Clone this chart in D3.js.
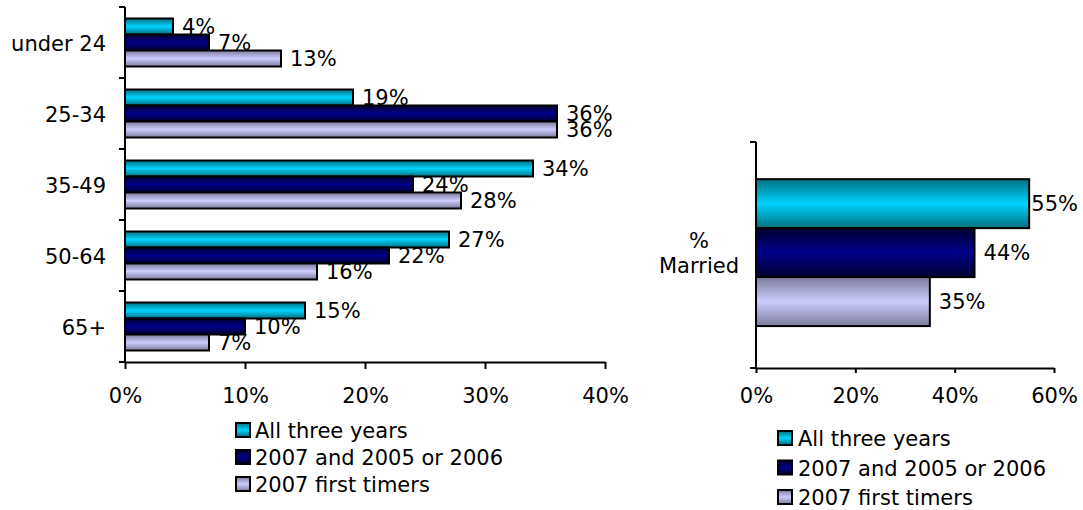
<!DOCTYPE html>
<html>
<head>
<meta charset="utf-8">
<script src="https://cdn.jsdelivr.net/npm/d3@7"></script>
<style>
  body { margin:0; background:#fff; }
  svg text { font-family:"DejaVu Sans", Verdana, sans-serif; font-size:21px; fill:#000; }
</style>
</head>
<body>
<svg id="chart" width="1083" height="510"></svg>
<script>
/* data */
const seriesNames  = ["All three years", "2007 and 2005 or 2006", "2007 first timers"];
const ageGroups    = ["under 24", "25-34", "35-49", "50-64", "65+"];
const allThree     = [4, 19, 34, 27, 15];
const repeatBuyers = [7, 36, 24, 22, 10];
const firstTimers  = [13, 36, 28, 16, 7];
const ageTicks     = [0, 10, 20, 30, 40];

const marriedLabel = ["%", "Married"];
const marriedVals  = [55, 44, 35];
const marriedTicks = [0, 20, 40, 60];

const FONT = "'DejaVu Sans', Verdana, sans-serif";
const svg = d3.select("#chart");

/* gradient fills: dark edges, bright middle */
const grads = [
  {id:"g0", edge:"#00707f", mid:"#00d2ff"},
  {id:"g1", edge:"#000030", mid:"#00008a"},
  {id:"g2", edge:"#7c7c9c", mid:"#ccccff"}
];
const defs = svg.append("defs");
grads.forEach(g=>{
  const lg = defs.append("linearGradient").attr("id",g.id)
    .attr("x1",0).attr("y1",0).attr("x2",0).attr("y2",1);
  lg.append("stop").attr("offset","0%").attr("stop-color",g.edge);
  lg.append("stop").attr("offset","50%").attr("stop-color",g.mid);
  lg.append("stop").attr("offset","100%").attr("stop-color",g.edge);
});
const fillOf = i => `url(#g${i})`;

/*────────── left chart: age groups ──────────*/
const ageRows = ageGroups.map((c,i)=>({cat:c, vals:[allThree[i], repeatBuyers[i], firstTimers[i]]}));

const x1 = d3.scaleLinear().domain([0,40]).range([125,605]);
const y1 = d3.scaleBand().domain(ageGroups).range([7,362]).paddingInner(0.324).paddingOuter(0.162);
const s1 = d3.scaleBand().domain(d3.range(3)).range([0,y1.bandwidth()]);

const left = svg.append("g");

const grp1 = left.selectAll("g.grp").data(ageRows).enter().append("g")
  .attr("class","grp").attr("transform",d=>`translate(0,${y1(d.cat)})`);

grp1.selectAll("rect").data(d=>d.vals).enter().append("rect")
  .attr("x",x1(0)).attr("y",(d,i)=>s1(i))
  .attr("width",d=>x1(d)-x1(0)).attr("height",s1.bandwidth())
  .attr("fill",(d,i)=>fillOf(i)).attr("stroke","#000").attr("stroke-width",2);

grp1.selectAll("text").data(d=>d.vals).enter().append("text")
  .attr("x",d=>x1(d)+9).attr("y",(d,i)=>s1(i)+s1.bandwidth()/2+7.5)
  .text(d=>d+"%");

/* x axis */
left.append("g").attr("transform","translate(0,362)")
  .call(d3.axisBottom(x1).tickValues(ageTicks).tickFormat(d=>d+"%").tickSize(7).tickPadding(19).tickSizeOuter(0));
/* y axis: labels at band centres, ticks on band edges */
const ya1 = left.append("g").attr("transform","translate(125,0)")
  .call(d3.axisLeft(y1).tickSize(0).tickPadding(19));
ya1.select(".domain").remove();
ya1.selectAll(".tick text").attr("dy","0.4em");
left.append("line").attr("x1",125).attr("x2",125).attr("y1",y1.range()[0]).attr("y2",y1.range()[1])
  .attr("stroke","#000").attr("stroke-width",2);
left.selectAll("line.edge").data(d3.range(ageGroups.length+1)).enter().append("line")
  .attr("class","edge")
  .attr("x1",119).attr("x2",125)
  .attr("y1",i=>y1.range()[0]+i*y1.step()).attr("y2",i=>y1.range()[0]+i*y1.step())
  .attr("stroke","#000").attr("stroke-width",2);

/*────────── right chart: % married ──────────*/
const x2 = d3.scaleLinear().domain([0,60]).range([756,1054]);
const y2 = d3.scaleBand().domain(["married"]).range([142,368]).paddingInner(0.35).paddingOuter(0.175).align(0.47);
const s2 = d3.scaleBand().domain(d3.range(3)).range([0,y2.bandwidth()]);

const right = svg.append("g");
const grp2 = right.append("g").attr("transform",`translate(0,${y2("married")})`);

grp2.selectAll("rect").data(marriedVals).enter().append("rect")
  .attr("x",x2(0)).attr("y",(d,i)=>s2(i))
  .attr("width",d=>x2(d)-x2(0)).attr("height",s2.bandwidth())
  .attr("fill",(d,i)=>fillOf(i)).attr("stroke","#000").attr("stroke-width",2);

grp2.selectAll("text").data(marriedVals).enter().append("text")
  .attr("y",(d,i)=>s2(i)+s2.bandwidth()/2+7.5)
  .text(d=>d+"%")
  .attr("x",function(d){
    const w = this.getComputedTextLength();
    return Math.min(x2(d)+9, 1078-w);
  });

right.append("g").attr("transform","translate(0,368)")
  .call(d3.axisBottom(x2).tickValues(marriedTicks).tickFormat(d=>d+"%").tickSize(5).tickPadding(15).tickSizeOuter(0));
right.append("line").attr("x1",756).attr("x2",756).attr("y1",142).attr("y2",368)
  .attr("stroke","#000").attr("stroke-width",2);
right.selectAll("line.edge").data([142,368]).enter().append("line")
  .attr("class","edge").attr("x1",750).attr("x2",756).attr("y1",d=>d).attr("y2",d=>d)
  .attr("stroke","#000").attr("stroke-width",2);

const mid2 = y2("married")+y2.bandwidth()/2;
right.append("text").attr("text-anchor","middle")
  .selectAll("tspan").data(marriedLabel).enter().append("tspan")
  .attr("x",699).attr("y",(d,i)=>mid2-4.5+i*25).text(d=>d);

/* axis styling */
svg.selectAll(".domain").attr("stroke","#000").attr("stroke-width",2);
svg.selectAll(".tick line").attr("stroke","#000").attr("stroke-width",2);
svg.selectAll(".tick text").style("font-size","21px").style("font-family",FONT);

/*────────── legends ──────────*/
function legend(x, y0, step, tx){
  const g = svg.append("g");
  const row = g.selectAll("g").data(seriesNames).enter().append("g")
    .attr("transform",(d,i)=>`translate(${x},${y0+i*step})`);
  row.append("rect").attr("x",0).attr("y",-15).attr("width",14).attr("height",14)
    .attr("fill",(d,i)=>fillOf(i)).attr("stroke","#000").attr("stroke-width",2);
  row.append("text").attr("x",tx).attr("y",0).text(d=>d);
}
legend(236, 438, 27, 19);
legend(778, 446, 29.5, 20);
</script>
</body>
</html>
